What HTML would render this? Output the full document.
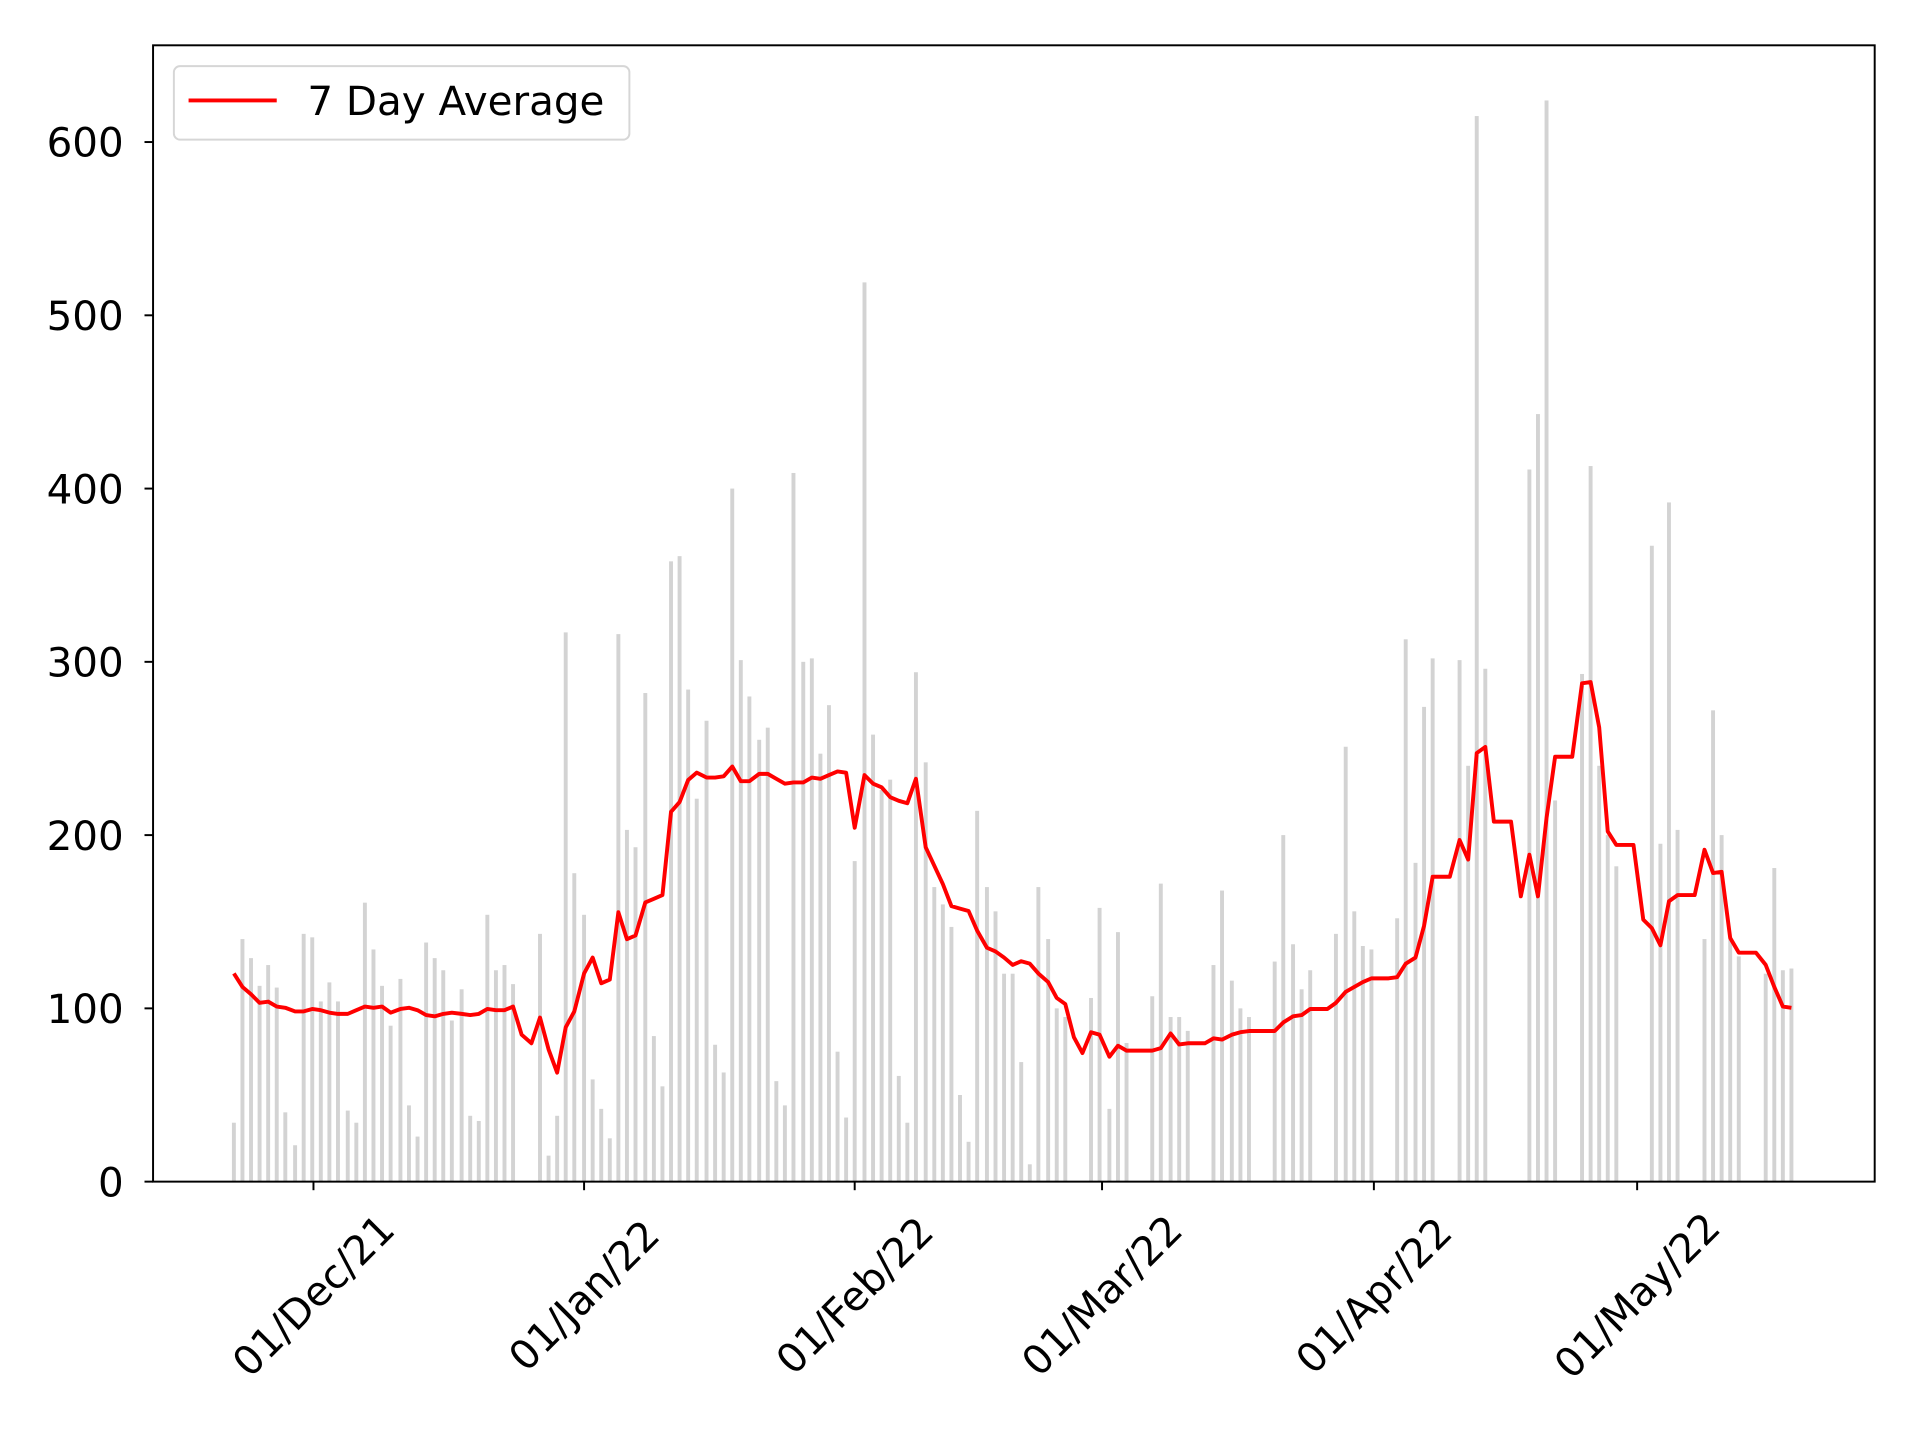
<!DOCTYPE html>
<html><head><meta charset="utf-8"><style>
html,body{margin:0;padding:0;background:#fff;}
svg{display:block;}
text{font-family:"DejaVu Sans","Liberation Sans",sans-serif;fill:#000;}
</style></head><body>
<svg id="s" width="1920" height="1440" viewBox="0 0 1568 1176" xmlns="http://www.w3.org/2000/svg">
<rect x="0" y="0" width="1568" height="1176" fill="#fff"/>
<g id="bars"></g>
<polyline id="avg" fill="none" stroke="#ff0000" stroke-width="3.2" stroke-linejoin="round" points=""/>
<rect x="125" y="37" width="1406" height="928" fill="none" stroke="#000" stroke-width="1.6"/>
<g id="ticks"></g>
<rect x="142" y="54" width="372" height="60" rx="5" fill="#fff" fill-opacity="0.8" stroke="#d6d6d6" stroke-width="1.6"/>
<line x1="154" y1="82" x2="226" y2="82" stroke="#ff0000" stroke-width="3.2"/>
<text x="251" y="94" font-size="33">7 Day Average</text>
</svg>
<script>
var NS="http://www.w3.org/2000/svg";
function y(v){return 965-v*1.415;}
var bars=[[191,34],[198,140],[205,129],[212,113],[219,125],[226,112],[233,40],[241,21],[248,143],[255,141],[262,104],[269,115],[276,104],[284,41],[291,34],[298,161],[305,134],[312,113],[319,90],[327,117],[334,44],[341,26],[348,138],[355,129],[362,122],[369,93],[377,111],[384,38],[391,35],[398,154],[405,122],[412,125],[419,114],[441,143],[448,15],[455,38],[462,317],[469,178],[477,154],[484,59],[491,42],[498,25],[505,316],[512,203],[519,193],[527,282],[534,84],[541,55],[548,358],[555,361],[562,284],[569,221],[577,266],[584,79],[591,63],[598,400],[605,301],[612,280],[620,255],[627,262],[634,58],[641,44],[648,409],[656,300],[663,302],[670,247],[677,275],[684,75],[691,37],[698,185],[706,519],[713,258],[720,226],[727,232],[734,61],[741,34],[748,294],[756,242],[763,170],[770,160],[777,147],[784,50],[791,23],[798,214],[806,170],[813,156],[820,120],[827,120],[834,69],[841,10],[848,170],[856,140],[863,100],[870,95],[891,106],[898,158],[906,42],[913,144],[920,80],[941,107],[948,172],[956,95],[963,95],[970,87],[991,125],[998,168],[1006,116],[1013,100],[1020,95],[1041,127],[1048,200],[1056,137],[1063,111],[1070,122],[1091,143],[1099,251],[1106,156],[1113,136],[1120,134],[1141,152],[1148,313],[1156,184],[1163,274],[1170,302],[1192,301],[1199,240],[1206,615],[1213,296],[1249,411],[1256,443],[1263,624],[1270,220],[1292,293],[1299,413],[1306,240],[1313,200],[1320,182],[1349,367],[1356,195],[1363,392],[1370,203],[1392,140],[1399,272],[1406,200],[1413,140],[1420,130],[1442,120],[1449,181],[1456,122],[1463,123]];
var g=document.getElementById("bars"),h="";
bars.forEach(function(b){var t=y(b[1]);h+='<rect x="'+(b[0]-1.6)+'" y="'+t+'" width="3.2" height="'+(965-t)+'" fill="#d3d3d3"/>';});
g.innerHTML=h;
var avg=[[191,795],[198,806],[205,812],[212,819],[219,818],[226,822],[233,823],[241,826],[248,826],[255,824],[262,825],[269,827],[276,828],[284,828],[291,825],[298,822],[305,823],[312,822],[319,827],[327,824],[334,823],[341,825],[348,829],[355,830],[362,828],[369,827],[377,828],[384,829],[391,828],[398,824],[405,825],[412,825],[419,822],[426,845],[434,852],[441,831],[448,857],[455,876],[462,839],[469,826],[477,795],[484,782],[491,803],[498,800],[505,745],[512,767],[519,764],[527,737],[534,734],[541,731],[548,663],[555,655],[562,637],[569,631],[577,635],[584,635],[591,634],[598,626],[605,638],[612,638],[620,632],[627,632],[634,636],[641,640],[648,639],[656,639],[663,635],[670,636],[677,633],[684,630],[691,631],[698,676],[706,633],[713,640],[720,643],[727,651],[734,654],[741,656],[748,636],[756,692],[763,707],[770,722],[777,740],[784,742],[791,744],[798,760],[806,774],[813,777],[820,782],[827,788],[834,785],[841,787],[848,795],[856,802],[863,815],[870,820],[877,847],[884,860],[891,843],[898,845],[906,863],[913,854],[920,858],[927,858],[934,858],[941,858],[948,856],[956,844],[963,853],[970,852],[977,852],[984,852],[991,848],[998,849],[1006,845],[1013,843],[1020,842],[1027,842],[1034,842],[1041,842],[1048,835],[1056,830],[1063,829],[1070,824],[1077,824],[1084,824],[1091,819],[1099,810],[1106,806],[1113,802],[1120,799],[1127,799],[1134,799],[1141,798],[1148,787],[1156,782],[1163,756],[1170,716],[1177,716],[1184,716],[1192,686],[1199,702],[1206,615],[1213,610],[1220,671],[1227,671],[1234,671],[1242,732],[1249,698],[1256,732],[1263,668],[1270,618],[1277,618],[1284,618],[1292,558],[1299,557],[1306,594],[1313,679],[1320,690],[1327,690],[1334,690],[1342,751],[1349,758],[1356,772],[1363,736],[1370,731],[1377,731],[1384,731],[1392,694],[1399,713],[1406,712],[1413,766],[1420,778],[1427,778],[1434,778],[1442,788],[1449,806],[1456,822],[1463,823]];
document.getElementById("avg").setAttribute("points",avg.map(function(p){return p.join(",");}).join(" "));
var t="";
[0,100,200,300,400,500,600].forEach(function(v){var yy=y(v);t+='<line x1="118" y1="'+yy+'" x2="125" y2="'+yy+'" stroke="#000" stroke-width="1.6"/><text x="101" y="'+(yy+12)+'" font-size="33" text-anchor="end">'+v+'</text>';});
[[256,"01/Dec/21"],[477,"01/Jan/22"],[698,"01/Feb/22"],[900,"01/Mar/22"],[1122,"01/Apr/22"],[1337,"01/May/22"]].forEach(function(k){t+='<line x1="'+k[0]+'" y1="965" x2="'+k[0]+'" y2="972" stroke="#000" stroke-width="1.6"/><text transform="translate('+k[0]+',1058) rotate(-45)" font-size="33" text-anchor="middle" dominant-baseline="central">'+k[1]+'</text>';});
document.getElementById("ticks").innerHTML=t;
</script>
</body></html>
